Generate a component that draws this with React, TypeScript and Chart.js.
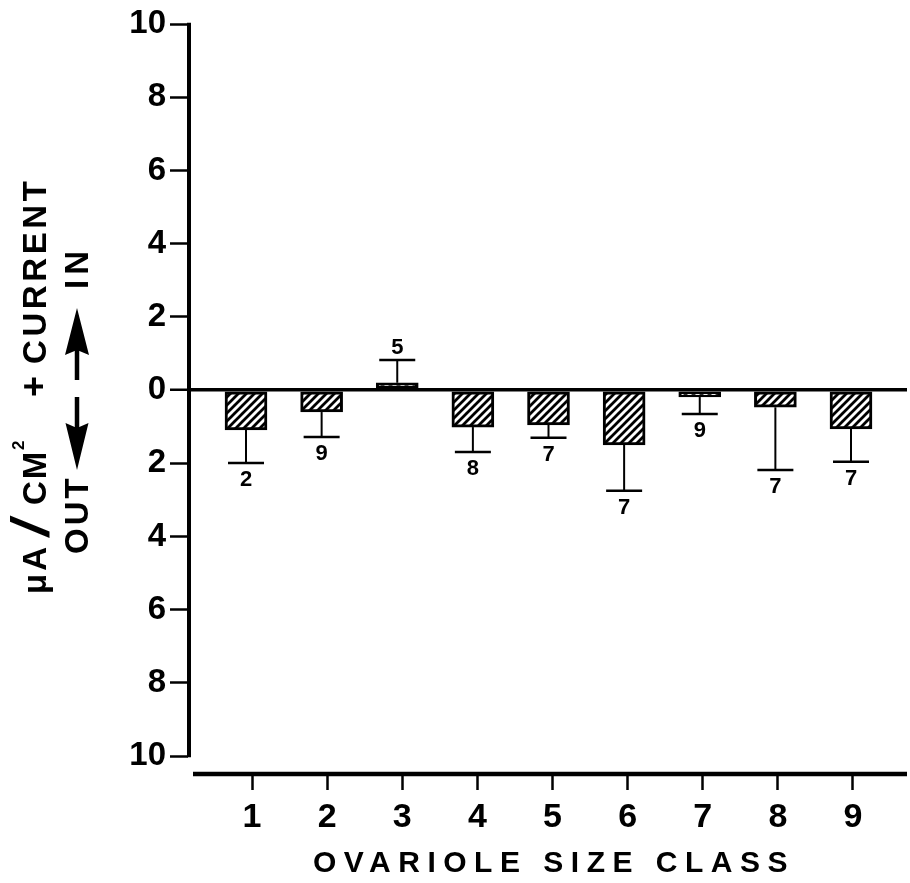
import { useEffect, useRef } from "react";
import { Chart, registerables } from "chart.js";

Chart.register(...registerables);

// ---- data ----
const sizeClasses = [1, 2, 3, 4, 5, 6, 7, 8, 9];
const meanCurrent = [-1.09, -0.6, 0.2, -1.01, -0.95, -1.5, -0.19, -0.47, -1.06];
const semCurrent = [0.9, 0.68, 0.62, 0.68, 0.35, 1.25, 0.46, 1.71, 0.9];
const sampleCounts = [2, 9, 5, 8, 7, 7, 9, 7, 7];
const yTickValues = [-10, -8, -6, -4, -2, 0, 2, 4, 6, 8, 10];
const xTickValues = [1, 2, 3, 4, 5, 6, 7, 8, 9];
const xTitle = "OVARIOLE SIZE CLASS";

const FONT = '"Liberation Sans", Arial, Helvetica, sans-serif';

function makeHatch(): CanvasPattern | string {
  const s = 8;
  const c = document.createElement("canvas");
  c.width = s;
  c.height = s;
  const g = c.getContext("2d");
  if (!g) return "#fff";
  g.fillStyle = "#fff";
  g.fillRect(0, 0, s, s);
  g.strokeStyle = "#000";
  g.lineWidth = 2.8;
  g.beginPath();
  g.moveTo(-2, 2);
  g.lineTo(2, -2);
  g.moveTo(0, s);
  g.lineTo(s, 0);
  g.moveTo(s - 2, s + 2);
  g.lineTo(s + 2, s - 2);
  g.stroke();
  return g.createPattern(c, "repeat") || "#fff";
}

function rotText(
  ctx: CanvasRenderingContext2D,
  text: string,
  yStart: number,
  xBase: number,
  font: string,
  ls: number,
  stretch = 1
) {
  ctx.save();
  ctx.translate(xBase, yStart);
  ctx.rotate(-Math.PI / 2);
  ctx.scale(stretch, 1);
  ctx.font = font;
  (ctx as any).letterSpacing = ls + "px";
  ctx.textAlign = "left";
  ctx.textBaseline = "alphabetic";
  ctx.fillText(text, 0, 0);
  (ctx as any).letterSpacing = "0px";
  ctx.restore();
}

function vArrow(
  ctx: CanvasRenderingContext2D,
  cx: number,
  shaftStart: number,
  headBase: number,
  tip: number,
  hw: number,
  sw: number
) {
  const dir = tip > headBase ? 1 : -1;
  ctx.lineWidth = sw;
  ctx.beginPath();
  ctx.moveTo(cx, shaftStart);
  ctx.lineTo(cx, headBase + dir * 8);
  ctx.stroke();
  ctx.beginPath();
  ctx.moveTo(cx - hw, headBase - dir * 2);
  ctx.lineTo(cx, headBase + dir * 3);
  ctx.lineTo(cx + hw, headBase - dir * 2);
  ctx.lineTo(cx, tip);
  ctx.closePath();
  ctx.fill();
}

const decor = {
  id: "decor",
  afterDatasetsDraw(chart: any) {
    const { ctx } = chart;
    const x = chart.scales.x;
    const y = chart.scales.y;
    ctx.save();
    ctx.strokeStyle = "#000";
    ctx.fillStyle = "#000";
    sizeClasses.forEach((c, i) => {
      const m = meanCurrent[i];
      const sgn = m >= 0 ? 1 : -1;
      const px = x.getPixelForValue(c);
      const y0 = y.getPixelForValue(m);
      const y1 = y.getPixelForValue(m + sgn * semCurrent[i]);
      ctx.lineWidth = 2;
      ctx.beginPath();
      ctx.moveTo(px, y0);
      ctx.lineTo(px, y1);
      ctx.stroke();
      ctx.lineWidth = 2.5;
      ctx.beginPath();
      ctx.moveTo(px - 18, y1);
      ctx.lineTo(px + 18, y1);
      ctx.stroke();
      ctx.font = `bold 22px ${FONT}`;
      ctx.textAlign = "center";
      ctx.textBaseline = "middle";
      ctx.fillText(String(sampleCounts[i]), px, y1 + (sgn < 0 ? 17 : -12));
    });
    ctx.restore();
  },
  afterDraw(chart: any) {
    const { ctx, chartArea } = chart;
    const y = chart.scales.y;
    ctx.save();
    ctx.strokeStyle = "#000";
    ctx.fillStyle = "#000";
    // y axis line (from 10 to -10)
    ctx.lineWidth = 4;
    ctx.beginPath();
    ctx.moveTo(chartArea.left + 1, y.getPixelForValue(yTickValues[yTickValues.length - 1]) - 1.2);
    ctx.lineTo(chartArea.left + 1, y.getPixelForValue(yTickValues[0]) + 1.2);
    ctx.stroke();
    // x axis line
    ctx.lineWidth = 4.5;
    ctx.beginPath();
    ctx.moveTo(chartArea.left + 5, chartArea.bottom + 1);
    ctx.lineTo(chartArea.right, chartArea.bottom + 1);
    ctx.stroke();

    // x title
    ctx.font = `bold 30px ${FONT}`;
    (ctx as any).letterSpacing = "7.5px";
    ctx.textAlign = "left";
    ctx.textBaseline = "alphabetic";
    ctx.fillText(xTitle, 313, 872);
    (ctx as any).letterSpacing = "0px";

    // y title line 1
    const f33 = `bold 33px ${FONT}`;
    rotText(ctx, "\u03bcA", 594, 46, f33, 3);
    rotText(ctx, "/", 538, 49, `54px ${FONT}`, 0, 1.5);
    rotText(ctx, "CM", 505, 46, f33, 2);
    rotText(ctx, "2", 450, 24, `bold 17px ${FONT}`, 0);
    rotText(ctx, "+", 397, 46, `bold 36px ${FONT}`, 0);
    rotText(ctx, "CURRENT", 364, 46, f33, 3.6);
    // y title line 2
    rotText(ctx, "OUT", 554, 88, f33, 3);
    rotText(ctx, "IN", 289, 88, f33, 5);
    vArrow(ctx, 77, 397, 425, 470, 11.5, 4.5);
    vArrow(ctx, 77, 380, 353, 308, 12, 4.5);
    ctx.restore();
  },
};

export default function App() {
  const ref = useRef<HTMLCanvasElement | null>(null);
  useEffect(() => {
    const canvas = ref.current;
    if (!canvas) return;
    const hatch = makeHatch();
    const chart = new Chart(canvas, {
      type: "bar",
      data: {
        datasets: [
          {
            data: sizeClasses.map((c, i) => ({ x: c, y: meanCurrent[i] })),
            backgroundColor: hatch as any,
            borderColor: "#000",
            borderWidth: 3,
            borderSkipped: false,
            barThickness: 42,
            xAxisID: "x",
            yAxisID: "y",
          },
        ],
      },
      options: {
        responsive: false,
        animation: false,
        devicePixelRatio: 1,
        layout: { padding: { top: 24, right: 3, bottom: 0, left: 0 } },
        plugins: {
          legend: { display: false },
          tooltip: { enabled: false },
          title: { display: false },
        },
        scales: {
          x: {
            type: "linear",
            display: false,
            offset: false,
            min: 0.233,
            max: 9.7405,
          },
          xb: {
            type: "linear",
            axis: "x",
            position: "bottom",
            offset: false,
            min: 0.148,
            max: 9.719,
            afterBuildTicks: (s: any) => {
              s.ticks = xTickValues.map((v) => ({ value: v }));
            },
            afterFit: (s: any) => {
              s.height = 110;
            },
            grid: {
              offset: false,
              drawOnChartArea: false,
              drawTicks: true,
              tickLength: 17,
              tickColor: "#000",
              tickWidth: 2.5,
            },
            border: { display: false },
            ticks: {
              color: "#000",
              font: { family: FONT, size: 34, weight: "bold" },
              padding: 7,
              autoSkip: false,
              maxRotation: 0,
              callback: (v: any) => String(v),
            },
          } as any,
          y: {
            type: "linear",
            min: -10.46,
            max: 10,
            afterBuildTicks: (s: any) => {
              s.ticks = yTickValues.map((v) => ({ value: v }));
            },
            afterFit: (s: any) => {
              s.width = 188;
            },
            grid: {
              drawOnChartArea: true,
              color: (c: any) => (c.tick && c.tick.value === 0 ? "#000" : "rgba(0,0,0,0)"),
              lineWidth: (c: any) => (c.tick && c.tick.value === 0 ? 3.5 : 1),
              drawTicks: true,
              tickLength: 18,
              tickColor: "#000",
              tickWidth: 2.5,
            },
            border: { display: false },
            ticks: {
              color: "#000",
              font: { family: FONT, size: 33, weight: "bold" },
              padding: 4,
              callback: (v: any) => String(Math.abs(Number(v))),
            },
          },
        },
      },
      plugins: [decor],
    });
    return () => chart.destroy();
  }, []);
  return (
    <div style={{ position: "fixed", left: 0, top: 0, width: 910, height: 883, background: "#fff" }}>
      <canvas ref={ref} width={910} height={883} style={{ display: "block" }} />
    </div>
  );
}
